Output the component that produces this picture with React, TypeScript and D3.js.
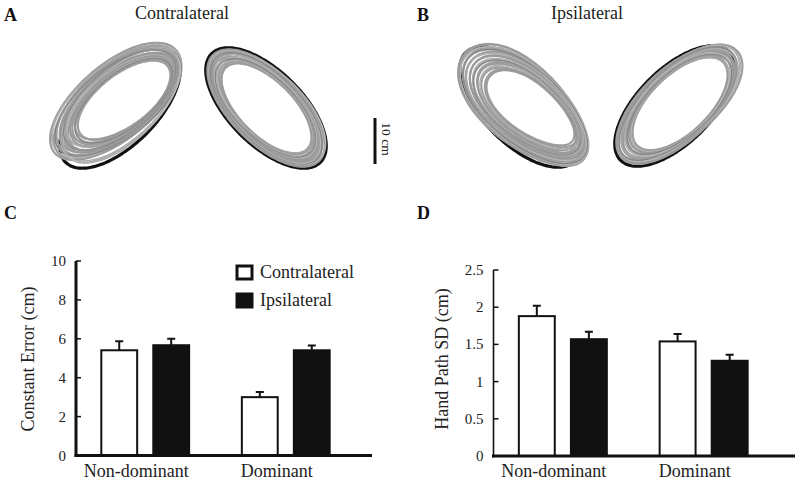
import React, { useEffect, useRef } from "react";
import * as d3 from "d3";

const FONT = "'Liberation Serif', 'Times New Roman', serif";

// bar panels
const groups = ["Non-dominant", "Dominant"];
const conditions = ["Contralateral", "Ipsilateral"];

const errorContra = [5.41, 3.0];
const errorContraSe = [0.47, 0.26];
const errorIpsi = [5.67, 5.41];
const errorIpsiSe = [0.33, 0.24];
const errorTicks = [0, 2, 4, 6, 8, 10];

const sdContra = [1.88, 1.54];
const sdContraSe = [0.14, 0.1];
const sdIpsi = [1.57, 1.28];
const sdIpsiSe = [0.1, 0.08];
const sdTicks = [0, 0.5, 1, 1.5, 2, 2.5];

// hand path loops, cm. target ellipse semi axes + tilt
const targetAxes = [16.7, 8.0];
const targetTilt = 45;
const scaleBarCm = 10;

// each trace: dx, dy, a, b, tilt (deg), egg
const tracesAL = [
  [-1.0, -1.4, 17.3, 8.1, -40, 0.02],
  [-0.7, -1.5, 16.9, 7.9, -39, -0.03],
  [-0.9, -1.1, 16.6, 7.8, -41, 0.04],
  [-0.4, -1.3, 16.4, 7.6, -38, 0],
  [-0.6, -1.6, 16.0, 7.5, -40, -0.02],
  [0.2, -0.8, 16.2, 7.7, -43, 0],
  [-0.2, -1.2, 15.7, 7.4, -41, 0.03],
  [-0.3, -1.5, 15.4, 7.2, -39, 0],
  [0.0, -1.3, 15.1, 7.1, -38, -0.04],
  [0.4, -0.5, 16.0, 7.6, -44, 0],
  [-0.1, -1.7, 14.8, 7.0, -40, 0.02],
  [0.2, -1.4, 14.5, 6.8, -39, 0],
  [0.3, -1.2, 14.2, 6.7, -41, 0.03],
  [0.1, -1.6, 13.9, 6.5, -38, -0.02],
  [0.5, -1.5, 13.6, 6.4, -39, 0],
  [0.4, -1.8, 13.3, 6.2, -37, 0.02],
  [0.6, -1.4, 13.0, 6.1, -38, -0.03],
  [0.8, -1.6, 12.7, 5.9, -39, 0],
  [0.7, -1.9, 12.4, 5.8, -37, 0.02],
  [0.9, -1.7, 12.0, 5.6, -38, 0],
];

const tracesAR = [
  [0.0, 0.0, 16.3, 7.7, 45, 0],
  [0.2, -0.1, 16.0, 7.6, 44, 0.02],
  [-0.1, 0.2, 15.8, 7.4, 46, -0.02],
  [0.1, 0.1, 15.5, 7.3, 45, 0],
  [-0.2, -0.1, 15.3, 7.2, 44, 0.03],
  [0.3, 0.2, 15.0, 7.0, 46, 0],
  [0.0, -0.2, 14.8, 6.9, 45, -0.03],
  [-0.3, 0.1, 14.5, 6.8, 44, 0],
  [0.2, 0.3, 14.3, 6.7, 46, 0.02],
  [0.1, -0.1, 14.0, 6.6, 45, 0],
  [-0.1, 0.0, 13.8, 6.5, 44, -0.02],
  [0.3, 0.1, 13.5, 6.4, 46, 0],
  [0.0, 0.2, 13.3, 6.2, 45, 0.03],
  [-0.2, -0.2, 13.0, 6.1, 44, 0],
  [0.2, 0.0, 12.8, 6.0, 46, -0.02],
  [0.1, 0.1, 12.5, 5.9, 45, 0],
];

const tracesBL = [
  [0.9, -0.1, 17.3, 8.6, 42, -0.12],
  [1.1, 0.0, 17.0, 8.3, 41, -0.1],
  [0.7, -0.3, 16.8, 8.4, 43, -0.14],
  [1.3, 0.1, 16.5, 8.0, 41, -0.08],
  [1.0, -0.2, 16.2, 7.9, 42, -0.12],
  [1.5, 0.2, 15.8, 7.6, 40, -0.1],
  [1.2, 0.0, 15.5, 7.5, 41, -0.15],
  [1.7, 0.3, 15.1, 7.2, 40, -0.1],
  [1.4, 0.1, 14.8, 7.0, 41, -0.12],
  [1.9, 0.2, 14.4, 6.8, 39, -0.08],
  [1.6, 0.4, 14.0, 6.6, 40, -0.14],
  [2.1, 0.3, 13.6, 6.3, 39, -0.1],
  [1.8, 0.5, 13.2, 6.1, 40, -0.12],
  [2.3, 0.4, 12.8, 5.9, 38, -0.15],
  [2.0, 0.6, 12.4, 5.7, 39, -0.1],
  [2.5, 0.5, 11.9, 5.5, 38, -0.14],
  [2.4, 0.4, 11.4, 5.3, 38, -0.12],
];

const tracesBR = [
  [1.0, -0.6, 16.9, 7.6, -42, 0.06],
  [0.8, -0.5, 16.7, 7.5, -43, 0.04],
  [0.3, -0.2, 16.5, 7.8, -44, 0],
  [0.6, -0.4, 16.2, 7.4, -43, 0.05],
  [0.2, -0.1, 16.0, 7.6, -45, 0],
  [0.9, -0.5, 15.7, 7.2, -42, 0.06],
  [0.5, -0.3, 15.4, 7.2, -44, 0.02],
  [0.7, -0.2, 15.1, 7.0, -43, 0.04],
  [1.1, -0.6, 14.8, 6.9, -42, 0.05],
  [0.6, -0.4, 14.5, 6.9, -44, 0],
  [0.9, -0.3, 14.2, 6.7, -43, 0.03],
  [1.2, -0.5, 13.9, 6.6, -42, 0.06],
  [0.8, -0.4, 13.6, 6.5, -44, 0.02],
  [1.0, -0.3, 13.3, 6.4, -43, 0.04],
  [1.1, -0.5, 13.0, 6.3, -44, 0],
];

// cm -> px
const cm = d3.scaleLinear().domain([0, 10]).range([0, 46]);

function loopPath(cx: number, cy: number, a: number, b: number, tilt: number, egg: number) {
  const r = (tilt * Math.PI) / 180;
  const pts: [number, number][] = d3.range(0, 120).map((i) => {
    const t = (i / 120) * 2 * Math.PI;
    const u = cm(a) * Math.cos(t);
    const v = cm(b) * Math.sin(t) * (1 + egg * Math.cos(t));
    return [cx + u * Math.cos(r) - v * Math.sin(r), cy + u * Math.sin(r) + v * Math.cos(r)];
  });
  return d3.line().curve(d3.curveCardinalClosed)(pts) as string;
}

function drawLoop(g: any, cx: number, cy: number, side: number, traces: number[][]) {
  // target first, traces over it
  g.append("path")
    .attr("d", loopPath(cx, cy, targetAxes[0], targetAxes[1], side * targetTilt, 0))
    .attr("fill", "none")
    .attr("stroke", "#111")
    .attr("stroke-width", 3.2);

  const t = g.append("g");
  // wide grey band, then thin strokes on top for the line texture
  t.selectAll(null)
    .data(traces)
    .join("path")
    .attr("d", (d: number[]) => loopPath(cx + cm(d[0]), cy + cm(d[1]), d[2], d[3], d[4], d[5]))
    .attr("fill", "none")
    .attr("stroke", "#a2a2a2")
    .attr("stroke-width", 2.2);

  t.selectAll(null)
    .data(traces)
    .join("path")
    .attr("d", (d: number[]) => loopPath(cx + cm(d[0]), cy + cm(d[1]), d[2], d[3], d[4], d[5]))
    .attr("fill", "none")
    .attr("stroke", (_d: any, i: number) => (i % 7 === 3 ? "#6e6e6e" : i % 4 === 1 ? "#c4c4c4" : "#979797"))
    .attr("stroke-width", 0.7);
}

interface BarPanel {
  x0: number;
  x1: number;
  axisEnd: number;
  yTop: number;
  yBase: number;
  max: number;
  ticks: number[];
  contra: number[];
  contraSe: number[];
  ipsi: number[];
  ipsiSe: number[];
  label: string;
  labelX: number;
  yAxisWidth: number;
}

function drawBars(svg: any, p: BarPanel) {
  const x = d3.scaleBand().domain(groups).range([p.x0, p.x1]).paddingInner(0.375).paddingOuter(0.18);
  const xs = d3.scaleBand().domain(conditions).range([0, x.bandwidth()]).paddingInner(0.31);
  const y = d3.scaleLinear().domain([0, p.max]).range([p.yBase, p.yTop]);

  const g = svg.append("g");

  const rows = groups.flatMap((grp, i) => [
    { grp, cond: conditions[0], v: p.contra[i], se: p.contraSe[i] },
    { grp, cond: conditions[1], v: p.ipsi[i], se: p.ipsiSe[i] },
  ]);

  g.selectAll(null)
    .data(rows)
    .join("rect")
    .attr("x", (d: any) => (x(d.grp) as number) + (xs(d.cond) as number))
    .attr("y", (d: any) => y(d.v))
    .attr("width", xs.bandwidth())
    .attr("height", (d: any) => y(0) - y(d.v))
    .attr("fill", (d: any) => (d.cond === conditions[0] ? "#fff" : "#111"))
    .attr("stroke", "#111")
    .attr("stroke-width", 2);

  // error bars, upward only
  const mid = (d: any) => (x(d.grp) as number) + (xs(d.cond) as number) + xs.bandwidth() / 2;
  g.selectAll(null)
    .data(rows)
    .join("path")
    .attr("d", (d: any) => {
      const cx = mid(d);
      const yt = y(d.v + d.se);
      return `M${cx},${y(d.v)}V${yt}M${cx - 4},${yt}H${cx + 4}`;
    })
    .attr("fill", "none")
    .attr("stroke", "#111")
    .attr("stroke-width", 2);

  // y axis
  g.append("line")
    .attr("x1", p.x0).attr("x2", p.x0)
    .attr("y1", y(p.max)).attr("y2", y(0) + 1.5)
    .attr("stroke", "#111").attr("stroke-width", p.yAxisWidth);

  g.selectAll(null)
    .data(p.ticks)
    .join("line")
    .attr("x1", p.x0).attr("x2", p.x0 + 5)
    .attr("y1", (d: number) => y(d)).attr("y2", (d: number) => y(d))
    .attr("stroke", "#111").attr("stroke-width", 1.5);

  g.selectAll(null)
    .data(p.ticks)
    .join("text")
    .attr("x", p.x0 - 10)
    .attr("y", (d: number) => y(d) + 5)
    .attr("text-anchor", "end")
    .attr("font-family", FONT)
    .attr("font-size", 15)
    .attr("fill", "#222")
    .text((d: number) => String(d));

  // x axis
  g.append("line")
    .attr("x1", p.x0 - 1.5).attr("x2", p.axisEnd)
    .attr("y1", y(0)).attr("y2", y(0))
    .attr("stroke", "#111").attr("stroke-width", 3);

  g.selectAll(null)
    .data(groups)
    .join("text")
    .attr("x", (d: string) => (x(d) as number) + x.bandwidth() / 2 - 9)
    .attr("y", 477)
    .attr("text-anchor", "middle")
    .attr("font-family", FONT)
    .attr("font-size", 18)
    .attr("fill", "#222")
    .text((d: string) => d);

  g.append("text")
    .attr("transform", `translate(${p.labelX},359) rotate(-90)`)
    .attr("text-anchor", "middle")
    .attr("dy", "0.35em")
    .attr("font-family", FONT)
    .attr("font-size", 18)
    .attr("fill", "#222")
    .text(p.label);
}

export default function App() {
  const ref = useRef<SVGSVGElement>(null);

  useEffect(() => {
    const svg = d3.select(ref.current);
    svg.selectAll("*").remove();

    // panel letters and titles
    const letters = [
      ["A", 4, 21], ["B", 417, 21], ["C", 4, 219], ["D", 417, 219],
    ];
    svg.selectAll(null)
      .data(letters)
      .join("text")
      .attr("x", (d: any) => d[1])
      .attr("y", (d: any) => d[2])
      .attr("font-family", FONT)
      .attr("font-weight", "bold")
      .attr("font-size", 18)
      .attr("fill", "#111")
      .text((d: any) => d[0]);

    svg.selectAll(null)
      .data([[conditions[0], 182], [conditions[1], 587]])
      .join("text")
      .attr("x", (d: any) => d[1])
      .attr("y", 18.5)
      .attr("text-anchor", "middle")
      .attr("font-family", FONT)
      .attr("font-size", 18)
      .attr("fill", "#222")
      .text((d: any) => d[0]);

    const loops = svg.append("g");
    drawLoop(loops, 120, 108, -1, tracesAL);
    drawLoop(loops, 266, 108, 1, tracesAR);
    drawLoop(loops, 520, 107, 1, tracesBL);
    drawLoop(loops, 675, 106, -1, tracesBR);

    // scale bar
    loops.append("line")
      .attr("x1", 375).attr("x2", 375)
      .attr("y1", 118).attr("y2", 118 + cm(scaleBarCm))
      .attr("stroke", "#111").attr("stroke-width", 3);
    loops.append("text")
      .attr("transform", `translate(382,${118 + cm(scaleBarCm) / 2 - 2}) rotate(90)`)
      .attr("text-anchor", "middle")
      .attr("font-family", FONT)
      .attr("font-size", 13.5)
      .attr("fill", "#222")
      .text(`${scaleBarCm} cm`);

    drawBars(svg, {
      x0: 76, x1: 355, axisEnd: 372, yTop: 261, yBase: 455.5, max: 10,
      ticks: errorTicks, contra: errorContra, contraSe: errorContraSe,
      ipsi: errorIpsi, ipsiSe: errorIpsiSe,
      label: "Constant Error (cm)", labelX: 28, yAxisWidth: 3,
    });

    drawBars(svg, {
      x0: 493.5, x1: 773, axisEnd: 795, yTop: 270, yBase: 456, max: 2.5,
      ticks: sdTicks, contra: sdContra, contraSe: sdContraSe,
      ipsi: sdIpsi, ipsiSe: sdIpsiSe,
      label: "Hand Path SD (cm)", labelX: 442, yAxisWidth: 1.6,
    });

    // legend
    const legend = svg.append("g").attr("transform", "translate(237,266)");
    legend.selectAll(null)
      .data(conditions)
      .join("rect")
      .attr("x", 0)
      .attr("y", (_d: string, i: number) => i * 28)
      .attr("width", 15)
      .attr("height", 13)
      .attr("fill", (_d: string, i: number) => (i === 0 ? "#fff" : "#111"))
      .attr("stroke", "#111")
      .attr("stroke-width", 3);
    legend.selectAll(null)
      .data(conditions)
      .join("text")
      .attr("x", 23)
      .attr("y", (_d: string, i: number) => i * 28 + 12)
      .attr("font-family", FONT)
      .attr("font-size", 18)
      .attr("fill", "#222")
      .text((d: string) => d);
  }, []);

  return (
    <svg
      ref={ref}
      width={800}
      height={482}
      style={{ position: "absolute", left: 0, top: 0, background: "#fff" }}
    />
  );
}
